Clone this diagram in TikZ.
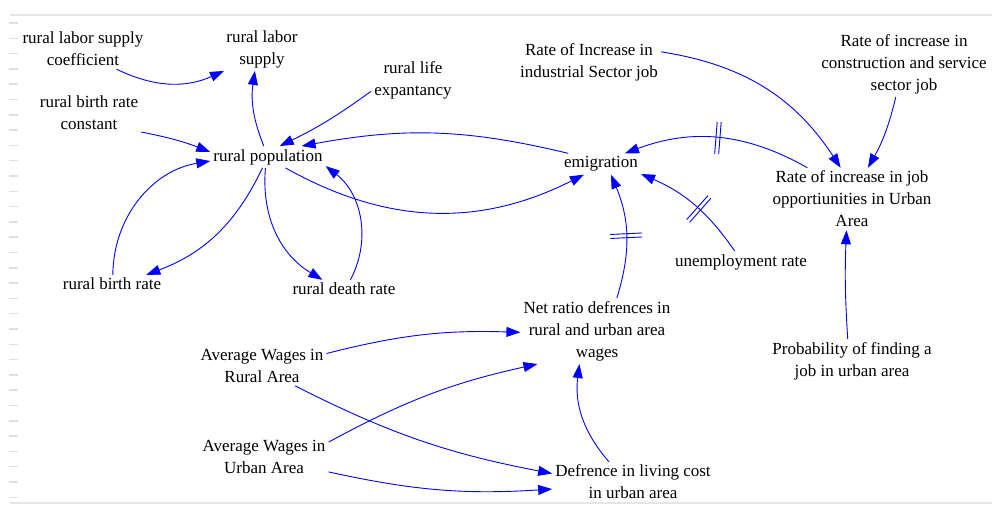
\documentclass[tikz,border=0pt]{standalone}
\usepackage{fontspec}
\setmainfont{Liberation Serif}
\usetikzlibrary{arrows.meta,decorations.markings}

\begin{document}
\begin{tikzpicture}[x=1pt,y=-1pt,
    var/.style={align=center,inner sep=3pt,font=\fontsize{17}{22}\selectfont},
    link/.style={blue,line width=0.9pt,-{Triangle[length=14pt,width=10pt]}},
    delay/.style={postaction={decorate,decoration={markings,
        mark=at position #1 with {\draw[blue,line width=0.9pt,-] (-2pt,-16pt)--(-2pt,16pt) (2pt,-16pt)--(2pt,16pt);}}}}]
    \useasboundingbox (0,0) rectangle (992,506);
    % faint frame of the sheet
    \draw[gray!20,line width=2pt] (10,15) -- (992,15);
    \draw[gray!20,line width=2pt] (10,503) -- (992,503);
    \foreach \y in {23,38.3,...,500} \draw[gray!25,line width=1.5pt] (9,\y) -- (18,\y);

    \node[var] (coef) at (83,49) {rural labor supply\\coefficient};
    \node[var] (labor) at (262,49) {rural labor\\supply};
    \node[var] (life) at (413,80) {rural life\\expantancy};
    \node[var] (brconst) at (89,113) {rural birth rate\\constant};
    \node[var] (pop) at (268,157) {rural population};
    \node[var] (emig) at (601,164) {emigration};
    \node[var] (ind) at (589,62) {Rate of Increase in\\industrial Sector job};
    \node[var] (cons) at (904,64) {Rate of increase in\\construction and service\\sector job};
    \node[var] (jobs) at (852,199) {Rate of increase in job\\opportiunities in Urban\\Area};
    \node[var] (unemp) at (741,262) {unemployment rate};
    \node[var] (birth) at (112,284) {rural birth rate};
    \node[var] (death) at (344,289) {rural death rate};
    \node[var] (ratio) at (597,331) {Net ratio defrences in\\rural and urban area\\wages};
    \node[var] (prob) at (852,361) {Probability of finding a\\job in urban area};
    \node[var] (wrural) at (262,366) {Average Wages in\\Rural Area};
    \node[var] (wurban) at (264,457) {Average Wages in\\Urban Area};
    \node[var] (living) at (633,482) {Defrence in living cost\\in urban area};

    \draw[link] (coef.-31) to[bend right=25] (labor.210);
    \draw[link] (pop.111) to[bend left=15] (labor.252);
    \draw[link] (life.195) to[bend left=5] (pop.43);
    \draw[link] (brconst.-20) to[bend left=5] (pop.175);
    \draw[link] (emig.162) to[bend right=12] (pop.18);
    \draw[link] (pop.-32) to[bend right=28] (emig.212);
    \draw[link] (pop.243) to[bend left=22] (birth.15);
    \draw[link] (birth.85) to[bend left=40] (pop.184);
    \draw[link] (pop.257) to[bend right=32] (death.157);
    \draw[link] (death.55) to[bend right=40] (pop.-9);
    \draw[link,delay=0.5] (jobs.145) to[bend right=25] (emig.24);
    \draw[link,delay=0.45] (unemp.120) to[bend right=16] (emig.-14);
    \draw[link,delay=0.5] (ratio.59) to[bend right=20] (emig.-47);
    \draw[link] (ind.8) to[bend left=24] (jobs.110);
    \draw[link] (cons.256) to[bend left=8] (jobs.63);
    \draw[link] (prob.101) to[bend left=3] (jobs.260);
    \draw[link] (wrural.11) to[bend left=8] (ratio.181);
    \draw[link] (wrural.-31) to[bend right=8] (living.174);
    \draw[link] (wurban.13) to[bend left=8] (ratio.209);
    \draw[link] (wurban.-13) to[bend right=8] (living.185);
    \draw[link] (living.140) to[bend left=24] (ratio.242);
\end{tikzpicture}
\end{document}
